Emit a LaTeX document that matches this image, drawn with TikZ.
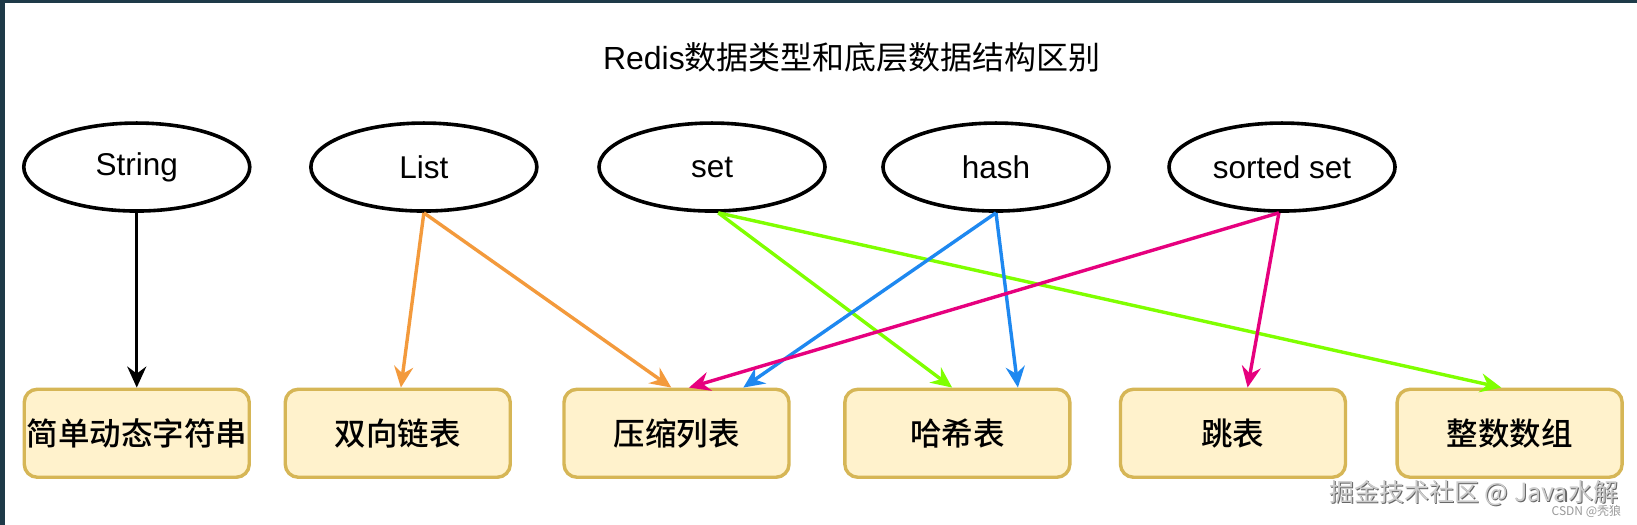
\documentclass[tikz,border=0pt]{standalone}
\usepackage{fontspec}
\setmainfont{Liberation Sans}
\newfontfamily\cjk{Noto Sans CJK SC}
\newfontfamily\cjkm{Noto Sans CJK SC}[UprightFont={* Medium}]
\usetikzlibrary{shapes.geometric,arrows.meta,calc}
\definecolor{boxfill}{HTML}{FFF2CC}
\definecolor{boxline}{HTML}{D6B656}
\definecolor{aorange}{HTML}{F39A3C}
\definecolor{agreen}{HTML}{80FF00}
\definecolor{ablue}{HTML}{1E88F0}
\definecolor{amag}{HTML}{E6007E}
\definecolor{frame}{HTML}{1E3A48}
\tikzset{
  typenode/.style={ellipse,draw=black,line width=3.6pt,minimum width=226pt,minimum height=88pt,inner sep=0pt,font=\fontsize{31.5}{33}\selectfont},
  structbox/.style={rectangle,rounded corners=13pt,draw=boxline,fill=boxfill,line width=3.4pt,minimum width=225pt,minimum height=88pt,inner sep=0pt,font=\cjkm\fontsize{31.5}{33}\selectfont},
  conn/.style={line width=3.4pt,-{Stealth[length=21pt,width=19pt,inset=7pt]}},
  wmark/.style={font=\cjk\fontsize{25}{27}\selectfont,anchor=east,inner sep=0pt},
}
\begin{document}
\begin{tikzpicture}[x=1.04401pt,y=-1.04401pt]
\useasboundingbox (0,0) rectangle (1568,502.87);
\fill[white] (0,0) rectangle (1568,502.87);
\fill[frame] (0,0) rectangle (1568,3);
\fill[frame] (0,0) rectangle (5,502.87);
\node[font=\fontsize{32}{34}\selectfont] (title) at (816,55) {Redis{\cjk 数据类型和底层数据结构区别}};
\node[typenode] (str) at (131,160) {String};
\node[typenode] (lst) at (406,160) {List};
\node[typenode] (set) at (682,160) {set};
\node[typenode] (hsh) at (954,160) {hash};
\node[typenode] (zst) at (1228,160) {sorted set};
\node[structbox] (b1) at (131,415) {简单动态字符串};
\node[structbox] (b2) at (381,415) {双向链表};
\node[structbox] (b3) at (648,415) {压缩列表};
\node[structbox] (b4) at (917,415) {哈希表};
\node[structbox] (b5) at (1181,415) {跳表};
\node[structbox] (b6) at (1446,415) {整数数组};
\draw[conn,black] (str.south) -- (b1.north);
\draw[conn,aorange] (lst.south) -- ($(b2.north)+(3,0)$);
\draw[conn,aorange] (lst.south) -- ($(b3.north)+(-5,0)$);
\draw[conn,agreen] ($(set.south)+(6,0)$) -- ($(b4.north)+(-5,0)$);
\draw[conn,agreen] ($(set.south)+(6,0)$) -- ($(b6.north)+(-8,0)$);
\draw[conn,ablue] (hsh.south) -- ($(b3.north)+(64,0)$);
\draw[conn,ablue] (hsh.south) -- ($(b4.north)+(58,0)$);
\draw[conn,amag] ($(zst.south)+(-3,0)$) -- ($(b3.north)+(12,0)$);
\draw[conn,amag] ($(zst.south)+(-3,0)$) -- ($(b5.north)+(14,0)$);
\node[wmark,text=black!60] (wm1s) at (1551,473) {掘金技术社区 @ Java水解};
\node[wmark,text=black!20] (wm1) at (1550,472) {掘金技术社区 @ Java水解};
\node[text=black!40,font=\cjk\fontsize{12}{13}\selectfont,anchor=east,inner sep=0pt] (wm2) at (1553,490) {CSDN @秃狼};
\end{tikzpicture}
\end{document}
